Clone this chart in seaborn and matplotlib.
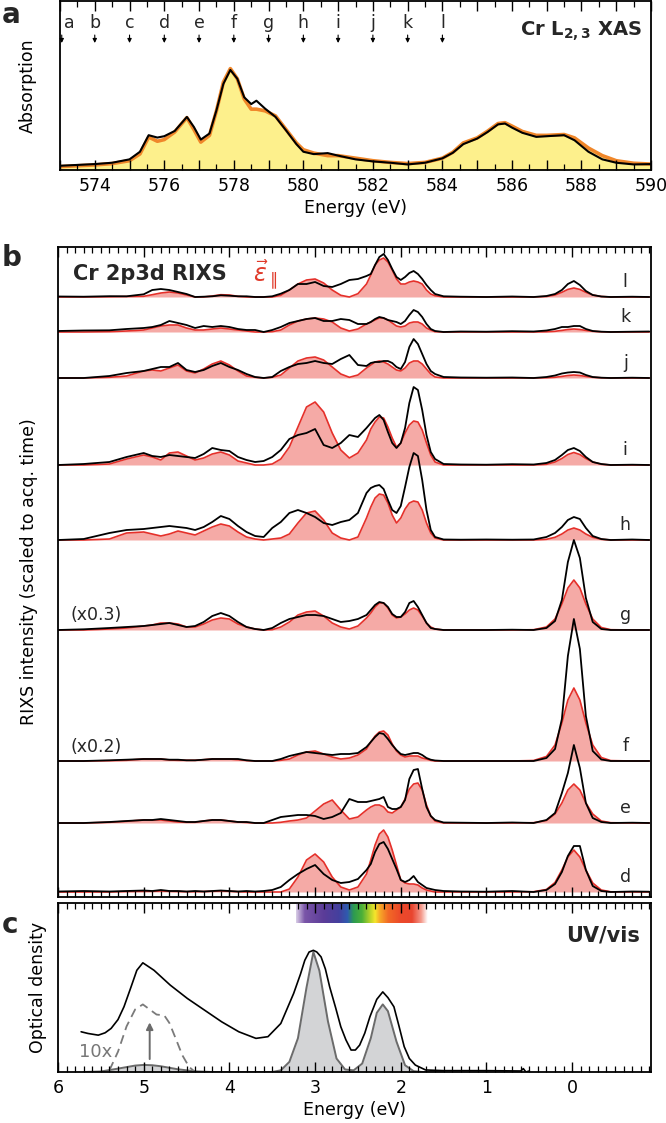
import matplotlib
matplotlib.use("Agg")
import numpy as np
import matplotlib.pyplot as plt
import seaborn as sns
from matplotlib.ticker import MultipleLocator, FuncFormatter
from matplotlib.colors import LinearSegmentedColormap

# ---------------- panel a : Cr L2,3 XAS ----------------
xas_E = [573.0, 574.0, 574.5, 575.0, 575.3, 575.55, 575.8, 576.0, 576.3, 576.65,
         576.85, 577.05, 577.3, 577.5, 577.7, 577.9, 578.1, 578.3, 578.5, 578.65,
         578.9, 579.2, 579.5, 579.8, 580.0, 580.3, 580.7, 581.0, 581.5, 582.0,
         582.5, 583.0, 583.5, 584.0, 584.3, 584.6, 585.0, 585.3, 585.6, 585.8,
         586.0, 586.3, 586.7, 587.0, 587.5, 587.8, 588.2, 588.6, 589.0, 589.5, 590.0]
xas_exp = [0.025, 0.035, 0.043, 0.063, 0.108, 0.206, 0.192, 0.2, 0.231, 0.314,
           0.255, 0.18, 0.216, 0.353, 0.51, 0.592, 0.54, 0.43, 0.39, 0.41,
           0.363, 0.314, 0.235, 0.153, 0.108, 0.094, 0.1, 0.085, 0.063, 0.051,
           0.043, 0.033, 0.043, 0.069, 0.102, 0.153, 0.186, 0.225, 0.27, 0.275,
           0.251, 0.22, 0.196, 0.2, 0.206, 0.176, 0.108, 0.063, 0.043, 0.033, 0.035]
xas_calc = [0.02, 0.03, 0.038, 0.055, 0.095, 0.195, 0.17, 0.18, 0.225, 0.31,
            0.24, 0.165, 0.205, 0.35, 0.52, 0.6, 0.54, 0.42, 0.36, 0.36,
            0.35, 0.32, 0.24, 0.16, 0.12, 0.1, 0.085, 0.085, 0.07, 0.055,
            0.045, 0.038, 0.045, 0.07, 0.105, 0.16, 0.19, 0.23, 0.275, 0.28,
            0.26, 0.228, 0.205, 0.205, 0.21, 0.19, 0.13, 0.085, 0.055, 0.04, 0.035]
exc_letters = ["a", "b", "c", "d", "e", "f", "g", "h", "i", "j", "k", "l"]
exc_E = [573.05, 574, 575, 576, 577, 578, 579, 580, 581, 582, 583, 584]

# ---------------- panel b : RIXS spectra ----------------
rixs_E = [6.0, 5.7, 5.4, 5.2, 5.0, 4.9, 4.8, 4.7, 4.6, 4.5,
          4.4, 4.3, 4.2, 4.1, 4.0, 3.9, 3.8, 3.7, 3.6, 3.5,
          3.4, 3.3, 3.2, 3.1, 3.0, 2.9, 2.8, 2.7, 2.6, 2.5,
          2.4, 2.35, 2.3, 2.25, 2.2, 2.15, 2.1, 2.05, 2.0, 1.95,
          1.9, 1.85, 1.8, 1.75, 1.7, 1.65, 1.6, 1.5,
          1.3, 1.0, 0.7,
          0.45, 0.3, 0.2, 0.12, 0.05, -0.02, -0.09, -0.16, -0.24, -0.34, -0.45,
          -0.7, -0.9]

l_exp = [0.5, 0.3, 0.8, 0.7, 2.7, 7, 8, 7, 5, 3,
         0, 0.3, 0.7, 1.7, 1.3, 0.7, 0.7, 0, 0, 0.7,
         3.3, 7, 13, 13, 15, 11, 10, 13, 17, 18,
         21, 23, 32, 40, 43, 37, 28, 20, 17, 20,
         24, 26, 23, 18, 12, 7, 3, 0.7,
         0.3, 0, 0.5,
         0, 1, 3, 7, 13, 16, 12, 6, 2, 0.5, 0,
         0.3, 0]
l_calc = [0, 0, 0.2, 0.5, 0.7, 2.3, 4, 5, 4, 2,
          0, 0, 1, 2.3, 2, 0.7, 0, 0, 0, 0,
          1.7, 7, 13, 17, 18, 14, 7, 1.7, 0, 3.3,
          13, 22, 32, 37, 39, 35, 27, 18, 13, 13,
          15, 16, 15, 13, 7, 3, 1.3, 0,
          0, 0, 0,
          0, 0.5, 2, 4.7, 7.6, 9, 7.6, 4.7, 2, 0.5, 0,
          0, 0]

k_exp = [1, 1.5, 1.7, 3, 4, 5, 7, 11, 9, 7,
         4, 6, 5, 6, 5, 3, 2, 2, 0, 2,
         5, 9, 11, 13, 14, 11, 11, 13, 12, 8,
         8, 10, 13, 15, 14, 12, 11, 10, 8, 11,
         17, 22, 20, 15, 8, 3, 1, 0,
         0.5, 0.3, 0.8,
         0.5, 1.5, 3, 5, 5, 6, 6, 3, 1, 0.3, 0,
         0.3, 0.5]
k_calc = [0, 0, 0.3, 1, 2, 4, 6, 7, 7, 4,
          2, 2, 3, 4, 3, 2, 1, 0, 0, 0.3,
          2, 7, 11, 13, 14, 13, 10, 4, 1, 3,
          8, 10, 12, 14, 14, 12, 9, 6, 5, 6,
          9, 10, 10, 8, 4, 2, 0.3, 0,
          0, 0, 0,
          0, 0.2, 0.7, 1.6, 2.5, 3, 2.5, 1.6, 0.7, 0.2, 0,
          0, 0]

j_exp = [0, 0, 2, 5, 7, 9, 11, 11, 15, 8,
         6, 8, 12, 15, 11, 8, 4, 1, 0, 1,
         7, 11, 14, 15, 17, 15, 14, 19, 23, 13,
         12, 15, 16, 16, 17, 17, 15, 11, 9, 16,
         31, 39, 34, 24, 14, 7, 4, 1,
         0.5, 0.3, 0.5,
         0, 1, 2.5, 4.5, 5.5, 6, 5.5, 3, 1, 0.3, 0,
         0.3, 0]
j_calc = [0, 0, 0.7, 2, 7, 8, 7, 10, 13, 7,
          5, 9, 14, 17, 13, 7, 2, 0.7, 0, 0.7,
          3, 10, 17, 20, 21, 18, 11, 4, 0.7, 3,
          10, 13, 16, 17, 16, 14, 11, 8, 7, 10,
          15, 17, 17, 14, 9, 4, 1, 0,
          0, 0, 0,
          0, 0.2, 0.7, 1.6, 2.5, 3, 2.5, 1.6, 0.7, 0.2, 0,
          0, 0]

i_exp = [0, 1, 3, 8, 12, 9, 8, 10, 9, 8,
         7, 11, 17, 15, 14, 8, 5, 3, 4, 8,
         15, 26, 30, 32, 36, 20, 17, 22, 30, 28,
         37, 42, 47, 50, 45, 33, 22, 17, 22, 37,
         62, 78, 75, 55, 30, 13, 6, 1,
         0.5, 0.3, 0.8,
         0.5, 2, 5, 10, 15, 17, 14, 8, 3, 1, 0,
         0.3, 0]
i_calc = [0, 0, 1, 6, 10, 8, 5, 12, 13, 9,
          5, 7, 11, 13, 10, 4, 2, 0, 0, 1,
          6, 18, 38, 58, 63, 53, 32, 15, 7, 12,
          25, 36, 43, 48, 47, 38, 27, 18, 22, 32,
          40, 44, 43, 35, 22, 10, 3, 0,
          0, 0, 0,
          0, 0.7, 3, 6.5, 10.5, 12.5, 10.5, 6.5, 3, 0.7, 0,
          0, 0]

h_exp = [0, 1, 7, 10, 11, 12, 13, 14, 13, 12,
         10, 13, 18, 24, 21, 14, 8, 4, 3, 12,
         18, 27, 30, 27, 23, 17, 15, 18, 20, 27,
         47, 52, 54, 55, 51, 40, 30, 27, 34, 53,
         73, 87, 84, 60, 30, 10, 3, 0.5,
         0.3, 0.5, 0.3,
         0.5, 3, 7, 13, 20, 23, 21, 12, 4, 1, 0,
         0.5, 0]
h_calc = [0, 0, 1, 7, 8, 6, 4, 6, 9, 7,
          5, 9, 13, 16, 14, 8, 3, 1, 0, 1,
          2, 6, 17, 27, 29, 20, 7, 2, 0, 3,
          22, 33, 42, 46, 45, 37, 25, 17, 22, 31,
          37, 39, 38, 30, 17, 7, 2, 0,
          0, 0, 0,
          0, 0.7, 2.7, 6, 10, 12, 10, 6, 2.7, 0.7, 0,
          0, 0]

g_exp = [0, 0.7, 2, 3, 4, 5, 6, 7, 5, 3,
         4, 8, 14, 17, 14, 8, 3, 1, 0, 2,
         7, 11, 13, 15, 15, 14, 11, 8, 9, 11,
         15, 20, 25, 28, 27, 23, 16, 13, 13, 18,
         27, 29, 23, 15, 7, 2, 1, 0,
         0, 0, 0.3,
         0, 2, 9, 30, 68, 90, 72, 32, 8, 1, 0,
         0, 0]
g_calc = [0, 0, 1, 2, 4, 5, 7, 7, 6, 3,
          3, 6, 10, 12, 11, 6, 3, 1, 0, 0.3,
          3, 8, 15, 18, 19, 14, 7, 3, 1, 4,
          12, 17, 23, 27, 27, 22, 15, 12, 13, 16,
          20, 22, 20, 14, 7, 3, 1, 0,
          0, 0, 0,
          0.3, 3, 11, 26, 42, 50, 42, 26, 11, 2.5, 0.3,
          0, 0]

f_exp = [0, 0, 0.7, 1.3, 2, 2, 2, 1.3, 1.3, 0.7,
         0.7, 1.3, 2, 2, 2, 2, 0.7, 0, 0, 0,
         2, 5, 7, 9, 8, 7, 6, 7, 7, 8,
         14, 19, 24, 28, 27, 22, 16, 11, 7, 6,
         7, 8, 8, 6, 3, 1.3, 0.5, 0,
         0, 0, 0,
         0, 3, 12, 42, 105, 142, 112, 45, 10, 1.5, 0,
         0, 0]
f_calc = [0, 0, 0.3, 0.7, 2, 2, 2, 1, 0.7, 0.7,
          0.7, 1.3, 2, 2, 2, 1.3, 0.5, 0, 0, 0,
          0.7, 2, 6, 9, 10, 7, 4, 2, 3, 6,
          12, 19, 25, 29, 30, 26, 17, 10, 6, 4,
          5, 5, 5, 3, 2, 0.7, 0, 0,
          0, 0, 0,
          0.5, 4.5, 16, 38, 61, 73, 61, 38, 16, 3.5, 0.4,
          0, 0]

e_exp = [0, 0, 1, 2, 3, 3, 4, 3, 2, 1,
         1, 2, 3, 3, 2, 1, 1, 0, 0, 3,
         6, 7, 8, 8, 7, 4, 6, 10, 24, 21,
         21, 22, 23, 24, 26, 16, 14, 14, 16, 23,
         44, 53, 54, 34, 16, 7, 3, 0.5,
         0.3, 0, 0.5,
         0, 3, 10, 30, 50, 78, 55, 20, 5, 1, 0,
         0.3, 0]
e_calc = [0, 0, 0.7, 1.7, 3, 3, 3, 2, 1, 0.7,
          0.7, 2, 3, 3, 2, 1, 0.5, 0, 0, 0,
          0.7, 2, 3, 5, 12, 19, 23, 13, 4, 6,
          13, 16, 18, 18, 16, 11, 10, 13, 16, 24,
          34, 39, 40, 33, 18, 7, 2, 0,
          0, 0, 0,
          0.3, 2.5, 9, 20, 33, 39, 33, 20, 9, 2, 0.3,
          0, 0]

d_exp = [0.5, 1, 0.5, 1, 1.5, 1, 2, 1, 1, 0.5,
         1, 0.5, 1, 1.5, 1, 0.5, 1, 0.5, 1, 2,
         5, 12, 18, 23, 27, 18, 12, 9, 10, 13,
         22, 28, 40, 48, 50, 43, 33, 23, 12, 10,
         12, 16, 10, 7, 4, 3, 2, 1,
         0.5, 0.3, 1,
         0, 2, 8, 20, 36, 46, 46, 22, 6, 1, 0,
         0.5, 0.3]
d_calc = [0, 0, 0, 0.5, 0.7, 0.7, 1, 0.7, 0.5, 0.3,
          0.3, 0.5, 0.7, 1, 0.7, 0.3, 0, 0, 0, 0,
          0, 3, 15, 32, 38, 30, 15, 5, 2, 5,
          18, 32, 47, 58, 62, 55, 42, 27, 12, 9,
          8, 8, 7, 4, 2, 1, 0, 0,
          0, 0, 0,
          0.3, 2.5, 9.5, 22, 35, 42, 35, 22, 9, 2, 0.2,
          0, 0]

rixs_names = ["l", "k", "j", "i", "h", "g", "f", "e", "d"]
rixs_exp = [l_exp, k_exp, j_exp, i_exp, h_exp, g_exp, f_exp, e_exp, d_exp]
rixs_calc = [l_calc, k_calc, j_calc, i_calc, h_calc, g_calc, f_calc, e_calc, d_calc]
rixs_offset = [600, 565, 519, 432, 357, 267, 136, 74, 5]

# ---------------- panel c : UV/vis ----------------
uv_E = [5.73, 5.65, 5.53, 5.45, 5.38, 5.3, 5.23, 5.15, 5.08, 5.01,
        4.88, 4.69, 4.49, 4.29, 4.09, 3.89, 3.69, 3.55, 3.4, 3.25,
        3.17, 3.12, 3.07, 3.02, 2.98, 2.93, 2.88, 2.83, 2.76, 2.7,
        2.64, 2.58, 2.53, 2.48, 2.42, 2.36, 2.28, 2.21, 2.15, 2.08,
        2.02, 1.96, 1.9, 1.83, 1.71, 1.5, 1.0, 0.6, 0.57, 0.54, 0.5]
uv_exp = [0.238, 0.228, 0.218, 0.232, 0.258, 0.31, 0.386, 0.5, 0.602, 0.646,
          0.602, 0.514, 0.435, 0.366, 0.297, 0.238, 0.199, 0.209, 0.287, 0.465,
          0.58, 0.661, 0.71, 0.72, 0.71, 0.681, 0.61, 0.504, 0.38, 0.268,
          0.19, 0.13, 0.13, 0.159, 0.23, 0.327, 0.43, 0.474, 0.44, 0.386,
          0.27, 0.15, 0.08, 0.041, 0.012, 0.008, 0.008, 0.006, 0.02, 0.0, 0.006]
uv_calc_E = [5.7, 5.5, 5.3, 5.1, 5.0, 4.9, 4.8, 4.6, 4.4, 4.2,
             3.8, 3.5, 3.4, 3.3, 3.2, 3.1, 3.02, 2.95, 2.85, 2.75,
             2.65, 2.55, 2.45, 2.35, 2.28, 2.21, 2.15, 2.05, 1.95, 1.85,
             1.75, 1.5]
uv_calc = [0, 0.003, 0.02, 0.038, 0.042, 0.04, 0.034, 0.016, 0.004, 0,
           0, 0, 0.01, 0.06, 0.2, 0.5, 0.71, 0.6, 0.3, 0.08,
           0.015, 0.01, 0.05, 0.2, 0.35, 0.4, 0.36, 0.18, 0.04, 0.005,
           0, 0]
uv_x10_E = [5.4, 5.3, 5.2, 5.1, 5.01, 4.93, 4.85, 4.76, 4.7, 4.62, 4.55, 4.47, 4.4]
uv_x10 = [0.01, 0.12, 0.27, 0.37, 0.4, 0.37, 0.34, 0.335, 0.29, 0.19, 0.1, 0.03, 0.0]

# visible spectrum strip (energy in eV -> colour)
vis_E = [3.22, 1.68]
vis_stops = [0.0, 0.065, 0.21, 0.325, 0.39, 0.435, 0.5, 0.56, 0.6, 0.636, 0.7, 0.79, 0.88, 0.95, 1.0]
vis_colors = ["#d8cce6", "#7a55a8", "#5b3c98", "#44409e", "#2f5bb0", "#2c9a52", "#4cb038",
              "#b5d22a", "#f5e62c", "#f7a928", "#f26a26", "#ec4a2a", "#e9452e", "#f4988a", "#ffffff"]

# ---------------- figure ----------------
sns.set_theme(style="ticks")
plt.rcParams["font.family"] = ["DejaVu Sans"]
plt.rcParams["mathtext.fontset"] = "dejavusans"
# tick look is set here, before the axes exist
plt.rcParams.update({"xtick.direction": "in", "xtick.top": True, "xtick.bottom": True,
                     "xtick.major.size": 7, "xtick.minor.size": 4,
                     "xtick.major.width": 1.0, "xtick.minor.width": 0.9,
                     "xtick.major.pad": 5, "xtick.minor.pad": 5,
                     "xtick.labelsize": 12.5, "xtick.color": "black",
                     "xtick.labelcolor": "black", "ytick.left": False, "ytick.right": False,
                     "axes.edgecolor": "black", "axes.linewidth": 1.3,
                     "axes.labelcolor": "black", "axes.axisbelow": False})

W, H = 666, 1123
fig = plt.figure(figsize=(W / 100, H / 100), dpi=100)


def rect(x0, y0, x1, y1):
    return [x0 / W, 1 - y1 / H, (x1 - x0) / W, (y1 - y0) / H]


ax_a = fig.add_axes(rect(60, 1, 651, 170))
ax_b = fig.add_axes(rect(58, 247, 651, 897))
ax_c = fig.add_axes(rect(58, 903, 651, 1072))

# panel a
ax_a.fill_between(xas_E, 0, xas_calc, color="#fdf08c", lw=0)
sns.lineplot(x=xas_E, y=xas_calc, ax=ax_a, color="#f0872a", lw=2.6,
             sort=False, estimator=None, legend=False)
sns.lineplot(x=xas_E, y=xas_exp, ax=ax_a, color="black", lw=1.5,
             sort=False, estimator=None, legend=False)
ax_a.set_xlim(573, 590)
ax_a.set_ylim(0, 1)
ax_a.xaxis.set_major_locator(MultipleLocator(1))
ax_a.xaxis.set_minor_locator(MultipleLocator(0.5))
ax_a.xaxis.set_major_formatter(FuncFormatter(lambda v, p: f"{v:.0f}" if round(v) % 2 == 0 else ""))
ax_a.set_xlabel("Energy (eV)", fontsize=12.5, labelpad=3)
ax_a.set_ylabel("Absorption", fontsize=12.5)
ax_a.yaxis.set_label_coords(-0.039, 0.5)
for lab, e in zip(exc_letters, exc_E):
    ax_a.annotate("", xy=(e, 0.735), xytext=(e, 0.815),
                  arrowprops=dict(arrowstyle="-|>", lw=0.8, color="black", mutation_scale=6))
    ax_a.text(e + (0.22 if lab == "a" else 0), 0.87, lab, ha="center", va="center", fontsize=12.5)
ax_a.text(0.985, 0.82, r"Cr L$_{\mathbf{2,3}}$ XAS", transform=ax_a.transAxes,
          ha="right", va="center", fontsize=14, fontweight="bold")

# panel b
for n, (name, ye, yc, off) in enumerate(zip(rixs_names, rixs_exp, rixs_calc, rixs_offset)):
    base = np.full(len(rixs_E), off)
    zc = 2 + n * 3
    ax_b.fill_between(rixs_E, base, np.array(yc) + off, color="#f5aaa6", lw=0, zorder=zc)
    sns.lineplot(x=rixs_E, y=np.array(yc) + off, ax=ax_b, color="#e5302a", lw=1.2,
                 sort=False, estimator=None, legend=False, zorder=zc + 1)
    sns.lineplot(x=rixs_E, y=np.array(ye) + off, ax=ax_b, color="black", lw=1.3,
                 sort=False, estimator=None, legend=False, zorder=zc + 2)
    ax_b.text(-0.62, off + 15, name, ha="center", va="center", fontsize=12.5, zorder=40)
ax_b.set_xlim(6.0, -0.92)
ax_b.set_ylim(0, 650)
ax_b.xaxis.set_major_locator(MultipleLocator(1))
ax_b.xaxis.set_minor_locator(MultipleLocator(0.1))
ax_b.xaxis.set_major_formatter(FuncFormatter(lambda v, p: ""))
ax_b.set_ylabel("RIXS intensity (scaled to acq. time)", fontsize=12.5)
ax_b.yaxis.set_label_coords(-0.034, 0.5)
ax_b.text(5.85, 282, "(x0.3)", ha="left", va="center", fontsize=12.5, zorder=40)
ax_b.text(5.85, 150, "(x0.2)", ha="left", va="center", fontsize=12.5, zorder=40)
ax_b.text(5.83, 623, "Cr 2p3d RIXS", ha="left", va="center", fontsize=15,
          fontweight="bold", zorder=40)
ax_b.text(3.72, 622, r"$\vec{\varepsilon}_{\parallel}$", ha="left", va="center",
          fontsize=17, color="#e03a2a", zorder=40)

# panel c
cmap = LinearSegmentedColormap.from_list("vis", list(zip(vis_stops, vis_colors)))
ax_c.imshow(np.linspace(0, 1, 256)[None, :], extent=[vis_E[0], vis_E[1], 0.882, 0.99],
            aspect="auto", cmap=cmap, zorder=0.5)
ax_c.fill_between(uv_calc_E, 0, uv_calc, color="#d3d4d6", lw=0, zorder=2)
sns.lineplot(x=uv_calc_E, y=uv_calc, ax=ax_c, color="#6b6b6b", lw=1.4,
             sort=False, estimator=None, legend=False, zorder=3)
sns.lineplot(x=uv_x10_E, y=uv_x10, ax=ax_c, color="#7a7a7a", lw=1.3,
             sort=False, estimator=None, legend=False, zorder=3)
ax_c.lines[-1].set_dashes([5, 3])
sns.lineplot(x=uv_E, y=uv_exp, ax=ax_c, color="black", lw=1.2,
             sort=False, estimator=None, legend=False, zorder=4)
ax_c.annotate("", xy=(4.93, 0.31), xytext=(4.93, 0.06),
              arrowprops=dict(arrowstyle="-|>", lw=1.4, color="#6b6b6b", mutation_scale=10))
ax_c.text(5.37, 0.12, "10x", ha="right", va="center", fontsize=13, color="#777777")
ax_c.text(0.981, 0.81, "UV/vis", transform=ax_c.transAxes, ha="right", va="center",
          fontsize=15, fontweight="bold")
ax_c.set_xlim(6.0, -0.92)
ax_c.set_ylim(0, 1)
ax_c.xaxis.set_major_locator(MultipleLocator(1))
ax_c.xaxis.set_minor_locator(MultipleLocator(0.1))
ax_c.xaxis.set_major_formatter(FuncFormatter(lambda v, p: f"{int(round(v))}"))
ax_c.set_xlabel("Energy (eV)", fontsize=12.5, labelpad=3)
ax_c.set_ylabel("Optical density", fontsize=12.5)
ax_c.yaxis.set_label_coords(-0.019, 0.5)

for ax in (ax_a, ax_b, ax_c):
    ax.set_yticks([])
    ax.xaxis.set_zorder(60)
    for s in ax.spines.values():
        s.set_zorder(61)

fig.text(2 / W, 1 - 15 / H, "a", fontsize=20, fontweight="bold", va="center", ha="left")
fig.text(2 / W, 1 - 258 / H, "b", fontsize=20, fontweight="bold", va="center", ha="left")
fig.text(2 / W, 1 - 925 / H, "c", fontsize=20, fontweight="bold", va="center", ha="left")

fig.savefig("out.png", dpi=100)
